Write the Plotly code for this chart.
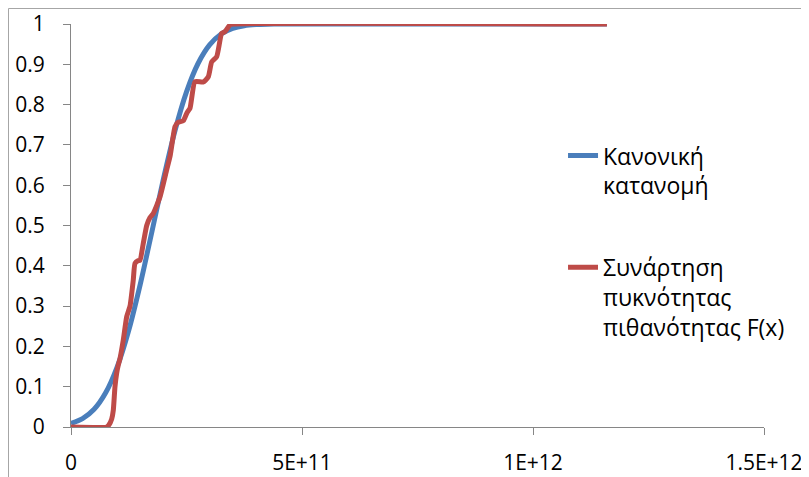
import plotly.graph_objects as go

# ---- data ----
normal_name = "\u00a0<br>Κανονική<br>κατανομή"
empirical_name = "\u00a0<br>\u00a0<br>Συνάρτηση<br>πυκνότητας<br>πιθανότητας F(x)"

normal_x = [0, 0.25e11, 0.5e11, 0.75e11, 1.0e11, 1.25e11, 1.5e11, 1.75e11, 2.0e11,
            2.25e11, 2.5e11, 2.75e11, 3.0e11, 3.25e11, 3.5e11, 3.75e11, 4.0e11,
            4.25e11, 4.5e11, 5.0e11, 11.6e11]
normal_y = [0.0088, 0.0207, 0.0439, 0.0848, 0.1492, 0.2399, 0.3545, 0.484, 0.6153,
            0.7347, 0.8315, 0.902, 0.9481, 0.975, 0.9891, 0.9957, 0.9985,
            0.9995, 0.9999, 1.0, 1.0]

empirical_x = [0, 0.773e11, 0.82e11, 0.881e11, 0.916e11, 0.952e11, 0.989e11, 1.024e11,
               1.061e11, 1.132e11, 1.206e11, 1.277e11, 1.348e11, 1.385e11, 1.457e11,
               1.494e11, 1.565e11, 1.639e11, 1.71e11, 1.781e11, 1.926e11, 2.071e11,
               2.143e11, 2.251e11, 2.316e11, 2.431e11, 2.511e11, 2.576e11, 2.684e11,
               2.864e11, 2.972e11, 3.045e11, 3.154e11, 3.262e11, 3.333e11, 3.442e11,
               3.506e11, 11.6e11]
empirical_y = [0, 0, 0.005, 0.02, 0.042, 0.1, 0.134, 0.154, 0.17, 0.216, 0.274, 0.3,
               0.365, 0.406, 0.413, 0.414, 0.456, 0.5, 0.52, 0.53, 0.571, 0.638, 0.671,
               0.745, 0.756, 0.76, 0.78, 0.791, 0.857, 0.856, 0.869, 0.906, 0.919,
               0.977, 0.981, 0.998, 1.0, 1.0]

x_tickvals = [0, 5e11, 1e12, 1.5e12]
x_ticktext = ["0", "5E+11", "1E+12", "1.5E+12"]
y_tickvals = [0, 0.1, 0.2, 0.3, 0.4, 0.5, 0.6, 0.7, 0.8, 0.9, 1]
y_ticktext = ["0", "0.1", "0.2", "0.3", "0.4", "0.5", "0.6", "0.7", "0.8", "0.9", "1"]

# ---- figure ----
FONT = "Open Sans, Liberation Sans, sans-serif"
AXIS_GRAY = "#868686"
# the page body has an 8px default margin, so the figure is sized to fit the window
W, H = 801, 469
ML, MR, MT, MB = 63, 45, 16, 50
PW, PH = W - ML - MR, H - MT - MB

fig = go.Figure()
fig.add_trace(go.Scatter(x=normal_x, y=normal_y, mode="lines", name=normal_name,
                         legend="legend",
                         line=dict(color="#4A7EBB", width=5, shape="spline", smoothing=0.8)))
fig.add_trace(go.Scatter(x=empirical_x, y=empirical_y, mode="lines", name=empirical_name,
                         legend="legend2",
                         line=dict(color="#BE4B48", width=5, shape="spline", smoothing=0.5)))

legend_style = dict(xanchor="left", yanchor="top",
                    font=dict(family=FONT, size=23, color="#000000"),
                    bgcolor="rgba(0,0,0,0)", itemwidth=30)

fig.update_layout(
    width=W, height=H,
    margin=dict(l=ML, r=MR, t=MT, b=MB, autoexpand=False),
    paper_bgcolor="white", plot_bgcolor="white",
    font=dict(family=FONT, size=21, color="#000000"),
    showlegend=True,
    legend=dict(x=0.710, y=0.801, **legend_style),
    legend2=dict(x=0.710, y=0.598, **legend_style),
    xaxis=dict(range=[0, 1.5e12], tickvals=x_tickvals, ticktext=x_ticktext,
               showgrid=False, zeroline=False, showline=True, linecolor=AXIS_GRAY,
               linewidth=1, ticks="outside", ticklen=7, tickcolor=AXIS_GRAY,
               ticklabelstandoff=10, automargin=False, tickfont=dict(family=FONT, size=21)),
    yaxis=dict(range=[0, 1], tickvals=y_tickvals, ticktext=y_ticktext,
               showgrid=False, zeroline=False, showline=True, linecolor=AXIS_GRAY,
               linewidth=1, ticks="outside", ticklen=7, tickcolor=AXIS_GRAY,
               ticklabelstandoff=14, automargin=False, tickfont=dict(family=FONT, size=21)),
)

# outer chart-area border (top and left edges of the figure)
fig.add_shape(type="rect", xref="paper", yref="paper",
              x0=(0.5 - ML) / PW, x1=(W + 20 - ML) / PW,
              y0=-(MB + 20) / PH, y1=(PH + MT - 0.5) / PH,
              line=dict(color="#A6A6A6", width=1), fillcolor="rgba(0,0,0,0)", layer="above")

fig.write_html("out.html")
